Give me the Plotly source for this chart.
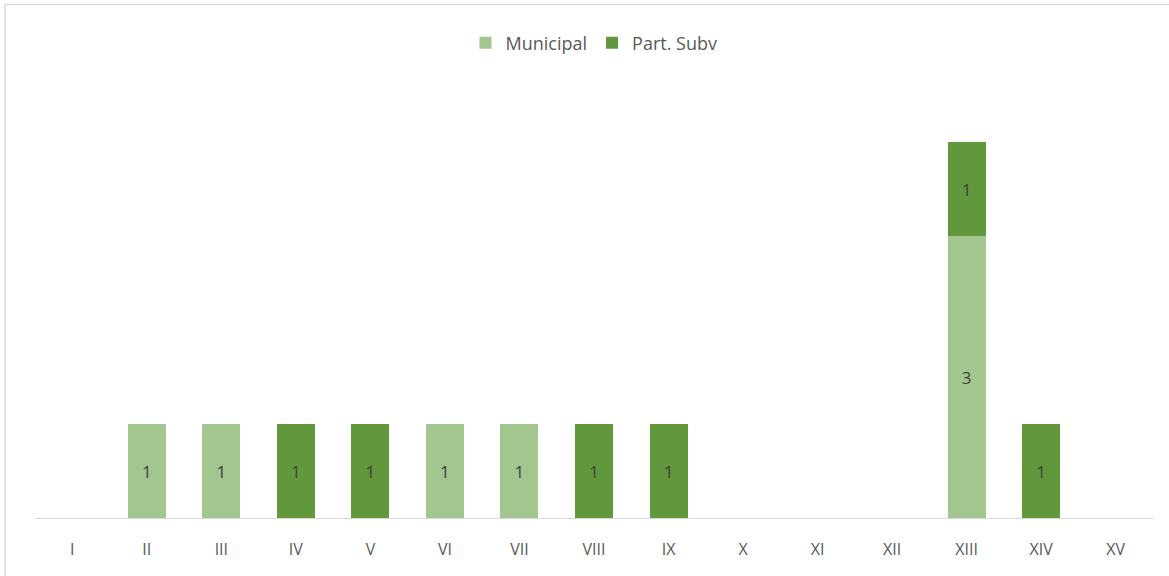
import plotly.graph_objects as go

categories = ["I", "II", "III", "IV", "V", "VI", "VII", "VIII", "IX", "X", "XI", "XII", "XIII", "XIV", "XV"]
municipal = [None, 1, 1, None, None, 1, 1, None, None, None, None, None, 3, None, None]
part_subv = [None, None, None, 1, 1, None, None, 1, 1, None, None, None, 1, 1, None]

W, H = 1169, 576
L, R, T, B = 35, 16, 100, 58
plot_w = W - L - R
plot_h = H - T - B

FONT = "Open Sans, Liberation Sans, sans-serif"

fig = go.Figure()
fig.add_trace(go.Bar(
    x=categories, y=municipal, name="Municipal",
    marker=dict(color="#A3C68F", line=dict(width=0)),
    text=[("" if v is None else str(v)) for v in municipal],
    textposition="inside", insidetextanchor="middle",
    textfont=dict(family=FONT, size=17, color="#404040"),
))
fig.add_trace(go.Bar(
    x=categories, y=part_subv, name="Part. Subv",
    marker=dict(color="#61983C", line=dict(width=0)),
    text=[("" if v is None else str(v)) for v in part_subv],
    textposition="inside", insidetextanchor="middle",
    textfont=dict(family=FONT, size=17, color="#404040"),
))

ymax = 4 * plot_h / 376.0

fig.update_layout(
    width=W, height=H,
    barmode="stack", bargap=0.49,
    margin=dict(l=L, r=R, t=T, b=B),
    paper_bgcolor="white", plot_bgcolor="white",
    font=dict(family=FONT, color="#595959"),
    showlegend=True,
    legend=dict(orientation="h", x=0.5, xanchor="center", y=(518 - 43) / plot_h, yanchor="middle",
                font=dict(size=18, color="#595959"), itemsizing="constant", traceorder="normal",
                itemwidth=30),
    xaxis=dict(showgrid=False, showline=True, linecolor="#D9D9D9", linewidth=1,
               ticks="", ticklabelstandoff=17, tickfont=dict(size=16, color="#595959"), zeroline=False),
    yaxis=dict(range=[0, ymax], visible=False, showgrid=False, zeroline=False),
    uniformtext=dict(mode="show", minsize=10),
)

fig.add_shape(type="rect", xref="paper", yref="paper",
              x0=(5 - L) / plot_w, x1=(1180 - L) / plot_w,
              y0=(518 - 590) / plot_h, y1=(518 - 4.5) / plot_h,
              line=dict(color="#D9D9D9", width=1.5), fillcolor="rgba(0,0,0,0)", layer="below")

fig.write_html("out.html", config={"displayModeBar": False},
               post_script="document.body.style.margin='0px';document.body.style.overflow='hidden';")
